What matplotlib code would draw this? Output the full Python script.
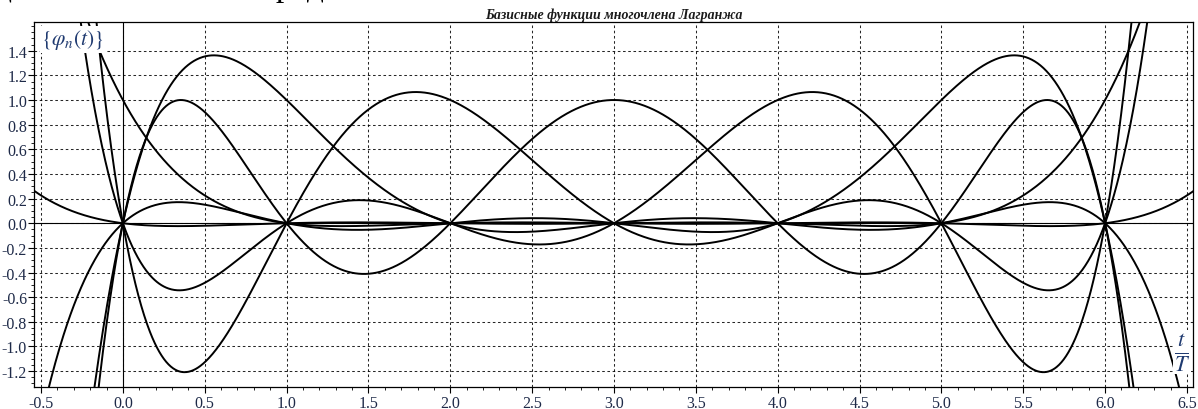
import numpy as np
import matplotlib
matplotlib.use("Agg")
import matplotlib.pyplot as plt
from matplotlib.ticker import MultipleLocator, FormatStrFormatter

# Interpolation nodes (t/T) of the Lagrange polynomial; basis function n equals 1 at node n
nodes = [0, 1, 2, 3, 4, 5, 6]
x_ticks = [-0.5, 0.0, 0.5, 1.0, 1.5, 2.0, 2.5, 3.0, 3.5, 4.0, 4.5, 5.0, 5.5, 6.0, 6.5]
y_ticks = [-1.2, -1.0, -0.8, -0.6, -0.4, -0.2, 0.0, 0.2, 0.4, 0.6, 0.8, 1.0, 1.2, 1.4]
title = "Базисные функции многочлена Лагранжа"

plt.rcParams['mathtext.fontset'] = 'stix'
plt.rcParams['axes.unicode_minus'] = False
serif = ['Liberation Serif', 'DejaVu Serif']

fig = plt.figure(figsize=(11.98, 4.10), dpi=100)
ax = fig.add_axes([34/1198, 1-387.5/410, (1193-34)/1198, (387.5-23)/410])

xlim = (-0.543, 6.537)
ylim = (-1.325, 1.633)
t = np.linspace(xlim[0], xlim[1], 2000)

for n, xn in enumerate(nodes):
    others = [xk for k, xk in enumerate(nodes) if k != n]
    poly = np.poly1d(np.poly(others)) / np.prod([xn - xk for xk in others])
    ax.plot(t, poly(t), color='black', lw=1.4, zorder=3)

ax.axhline(0, color='black', lw=0.8, zorder=2)
ax.axvline(0, color='black', lw=0.8, zorder=2)

ax.set_xlim(*xlim)
ax.set_ylim(*ylim)
ax.set_xticks(x_ticks)
ax.set_yticks(y_ticks)
ax.xaxis.set_major_formatter(FormatStrFormatter('%.1f'))
ax.yaxis.set_major_formatter(FormatStrFormatter('%.1f'))
ax.xaxis.set_minor_locator(MultipleLocator(0.1))
ax.yaxis.set_minor_locator(MultipleLocator(0.05))
ax.grid(True, which='major', color='black', ls=(0, (2.5, 2.5)), lw=0.75, alpha=0.85)
tick_col = '#1e2a48'
ax.tick_params(axis='both', which='major', direction='out', length=4, width=0.8,
               labelsize=11.5, labelcolor=tick_col, pad=2)
ax.tick_params(axis='both', which='minor', direction='out', length=2, width=0.6)
for lab in ax.get_xticklabels() + ax.get_yticklabels():
    lab.set_family(serif)
ax.tick_params(axis='y', pad=1)
for sp in ax.spines.values():
    sp.set_linewidth(0.9)

ax.set_title(title, fontsize=10, fontweight='bold', fontstyle='italic',
             family=serif, color='#1a1a1a', pad=3)

ax.text(0.006, 0.985, r'$\{\varphi_n(t)\}$', transform=ax.transAxes, ha='left', va='top',
        fontsize=15.5, color='#1f3a70', zorder=10,
        bbox=dict(facecolor='white', edgecolor='none', pad=1))
ax.text(0.9975, 0.095, r'$\frac{t}{T}$', transform=ax.transAxes, ha='right', va='center',
        fontsize=23, color='#1f3a70', zorder=10,
        bbox=dict(facecolor='white', edgecolor='none', pad=1))

# cropped fragments of surrounding page text at the very top
fig.text(-0.004, 1 + 4/410, 'д', fontsize=24, family=serif, va='baseline', ha='left', color='black')
fig.text(258/1198, 1 + 4/410, 'пред', fontsize=24, family=serif, va='baseline', ha='left', color='black')

fig.savefig('out.png', dpi=100)
